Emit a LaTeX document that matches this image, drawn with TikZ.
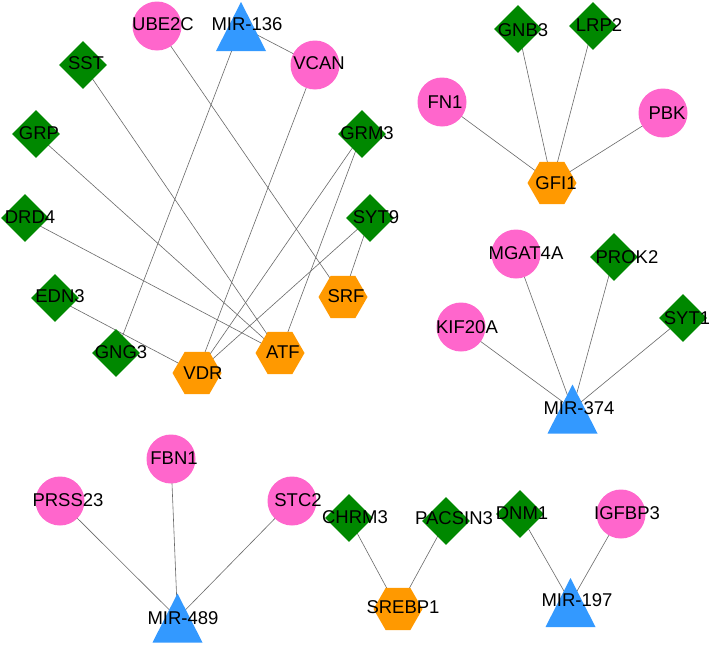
\documentclass[tikz,border=0pt]{standalone}
\usepackage{fontspec}
\setmainfont{Liberation Sans}
\usetikzlibrary{shapes.geometric,backgrounds}
\definecolor{pinkc}{RGB}{255,102,204}
\definecolor{greenc}{RGB}{0,136,0}
\definecolor{orangec}{RGB}{255,153,0}
\definecolor{bluec}{RGB}{51,153,255}
\definecolor{edgec}{RGB}{105,105,105}
\newcommand\mytri[2]{\coordinate (#1) at #2;
  \fill[bluec] (#1) ++(0,-24.5) -- ++(25,49) -- ++(-50,0) -- cycle;}
\begin{document}
\begin{tikzpicture}[x=1pt,y=-1pt,
  circ/.style={circle,fill=pinkc,minimum size=49pt,inner sep=0pt},
  diam/.style={diamond,fill=greenc,minimum size=48pt,inner sep=0pt},
  hexa/.style={regular polygon,regular polygon sides=6,fill=orangec,minimum size=49pt,inner sep=0pt},
  lbl/.style={font=\fontsize{18.5}{19}\selectfont,inner sep=0pt,text=black},
  edge/.style={draw=edgec,line width=0.6pt}]
\begin{pgfonlayer}{background}
\fill[white] (0,0) rectangle (709,645);
\end{pgfonlayer}
\useasboundingbox (0,0) rectangle (709,645);
% ---- cluster 1
\node[circ] (ube2c) at (157,26) {};
\mytri{mir136}{(241,26.5)}
\node[circ] (vcan) at (315,65) {};
\node[diam] (sst) at (83,65) {};
\node[diam] (grp) at (36,134) {};
\node[diam] (drd4) at (25,218) {};
\node[diam] (edn3) at (55,298) {};
\node[diam] (gng3) at (116,353) {};
\node[hexa] (vdr) at (197,373) {};
\node[hexa] (atf) at (280,353) {};
\node[hexa] (srf) at (343,297) {};
\node[diam] (syt9) at (370,218) {};
\node[diam] (grm3) at (362,134) {};
% ---- GFI1 cluster
\node[diam] (gnb3) at (518,29) {};
\node[diam] (lrp2) at (593,26) {};
\node[circ] (fn1) at (442,102) {};
\node[circ] (pbk) at (663,113) {};
\node[hexa] (gfi1) at (552,183) {};
% ---- MIR-374 cluster
\node[circ] (mgat4a) at (516,254) {};
\node[diam] (prok2) at (614,257) {};
\node[circ] (kif20a) at (461,327) {};
\node[diam] (syt1) at (683,318) {};
\mytri{mir374}{(572.5,409)}
% ---- MIR-489 cluster
\node[circ] (fbn1) at (171,459) {};
\node[circ] (prss23) at (60,501) {};
\node[circ] (stc2) at (292,501) {};
\mytri{mir489}{(177.5,618)}
% ---- SREBP1 cluster
\node[diam] (chrm3) at (349,518) {};
\node[diam] (pacsin3) at (446,521) {};
\node[hexa] (srebp1) at (398,609) {};
% ---- MIR-197 cluster
\node[diam] (dnm1) at (520,514) {};
\node[circ] (igfbp3) at (621,514) {};
\mytri{mir197}{(570.5,602.5)}
% ---- edges
\begin{pgfonlayer}{background}
\draw[edge] (mir136) -- (vcan.center);
\draw[edge] (mir136) -- (gng3.center);
\draw[edge] (ube2c.center) -- (srf.center);
\draw[edge] (sst.center) -- (atf.center);
\draw[edge] (grp.center) -- (atf.center);
\draw[edge] (drd4.center) -- (atf.center);
\draw[edge] (edn3.center) -- (vdr.center);
\draw[edge] (vcan.center) -- (vdr.center);
\draw[edge] (grm3.center) -- (vdr.center);
\draw[edge] (grm3.center) -- (atf.center);
\draw[edge] (syt9.center) -- (vdr.center);
\draw[edge] (syt9.center) -- (srf.center);
\draw[edge] (fn1.center) -- (gfi1.center);
\draw[edge] (gnb3.center) -- (gfi1.center);
\draw[edge] (lrp2.center) -- (gfi1.center);
\draw[edge] (pbk.center) -- (gfi1.center);
\draw[edge] (kif20a.center) -- (mir374);
\draw[edge] (mgat4a.center) -- (mir374);
\draw[edge] (prok2.center) -- (mir374);
\draw[edge] (syt1.center) -- (mir374);
\draw[edge] (prss23.center) -- (mir489);
\draw[edge] (fbn1.center) -- (mir489);
\draw[edge] (stc2.center) -- (mir489);
\draw[edge] (chrm3.center) -- (srebp1.center);
\draw[edge] (pacsin3.center) -- (srebp1.center);
\draw[edge] (dnm1.center) -- (mir197);
\draw[edge] (igfbp3.center) -- (mir197);
\end{pgfonlayer}
% ---- labels
\node[lbl] (l-ube2c) at (163,24) {UBE2C};
\node[lbl] (l-mir136) at (247,24) {MIR-136};
\node[lbl] (l-vcan) at (319,63) {VCAN};
\node[lbl] (l-sst) at (86,63) {SST};
\node[lbl] (l-grp) at (39,133) {GRP};
\node[lbl] (l-drd4) at (30,217) {DRD4};
\node[lbl] (l-edn3) at (60,296) {EDN3};
\node[lbl] (l-gng3) at (121,352) {GNG3};
\node[lbl] (l-vdr) at (203,373) {VDR};
\node[lbl] (l-atf) at (283,352) {ATF};
\node[lbl] (l-srf) at (346,296) {SRF};
\node[lbl] (l-syt9) at (376,217) {SYT9};
\node[lbl] (l-grm3) at (367,133) {GRM3};
\node[lbl] (l-gnb3) at (523,30) {GNB3};
\node[lbl] (l-lrp2) at (599,25) {LRP2};
\node[lbl] (l-fn1) at (445,102) {FN1};
\node[lbl] (l-pbk) at (667,113) {PBK};
\node[lbl] (l-gfi1) at (556,183) {GFI1};
\node[lbl] (l-mgat4a) at (526,253) {MGAT4A};
\node[lbl] (l-prok2) at (627,257) {PROK2};
\node[lbl] (l-kif20a) at (467,327) {KIF20A};
\node[lbl] (l-syt1) at (687,318) {SYT1};
\node[lbl] (l-mir374) at (579,408) {MIR-374};
\node[lbl] (l-fbn1) at (174,458) {FBN1};
\node[lbl] (l-prss23) at (68,500) {PRSS23};
\node[lbl] (l-stc2) at (298,500) {STC2};
\node[lbl] (l-mir489) at (183,618) {MIR-489};
\node[lbl] (l-chrm3) at (355,517) {CHRM3};
\node[lbl] (l-pacsin3) at (454,518) {PACSIN3};
\node[lbl] (l-srebp1) at (403,607) {SREBP1};
\node[lbl] (l-dnm1) at (522,513) {DNM1};
\node[lbl] (l-igfbp3) at (627,513) {IGFBP3};
\node[lbl] (l-mir197) at (577,600) {MIR-197};
\end{tikzpicture}
\end{document}
